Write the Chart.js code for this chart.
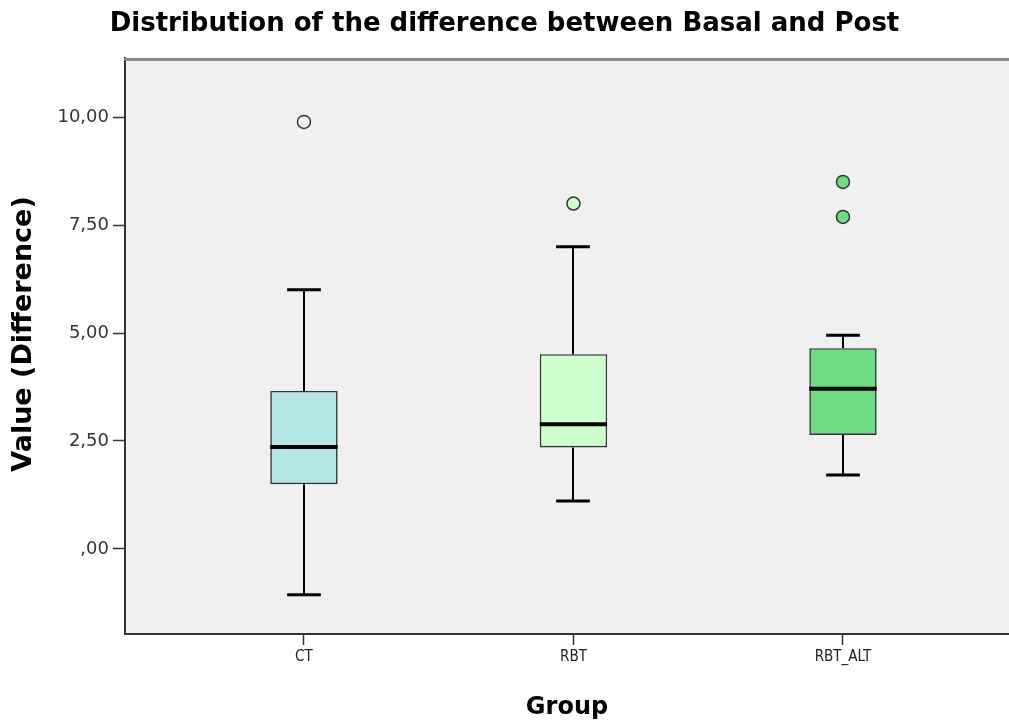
<!DOCTYPE html>
<html>
<head>
<meta charset="utf-8">
<script src="https://cdn.jsdelivr.net/npm/chart.js@4.4.1/dist/chart.umd.min.js"></script>
<style>
  body { margin: 0; background: #fff; }
  #contenedor { width: 1009px; height: 724px; }
</style>
</head>
<body>
<div id="contenedor"><canvas id="grafico" width="1009" height="724"></canvas></div>
<script>
// Datos de cada grupo (diferencia Basal - Post)
const grupos = ['CT', 'RBT', 'RBT_ALT'];
const bigoteInf = [-1.06, 1.11, 1.71];
const cuartil1 = [1.50, 2.35, 2.64];
const medianas = [2.36, 2.89, 3.71];
const cuartil3 = [3.66, 4.51, 4.65];
const bigoteSup = [6.00, 7.00, 4.95];
const atipicos = [[9.89], [8.00], [8.50, 7.69]];

// Marcas del eje Y con formato de coma decimal
const ticksY = [0, 2.5, 5, 7.5, 10];
const etiquetasY = [',00', '2,50', '5,00', '7,50', '10,00'];

const colores = ['#b4e6e8', '#ccffcc', '#6edc82'];
const coloresAtipicos = ['#f4f4f4', '#ccffcc', '#6edc82'];

// Puntos atípicos en formato {x, y}
const puntosAtipicos = [];
const colorPuntos = [];
atipicos.forEach((lista, i) => {
    lista.forEach(v => {
        puntosAtipicos.push({ x: i, y: v });
        colorPuntos.push(coloresAtipicos[i]);
    });
});

// Plugin: fondo gris, bigotes, medianas, borde superior y título del eje Y
const cajaBigotes = {
    id: 'cajaBigotes',
    beforeDraw(chart) {
        const { ctx, chartArea: a } = chart;
        ctx.save();
        ctx.fillStyle = '#f0f0f0';
        ctx.fillRect(a.left, a.top, a.right - a.left, a.bottom - a.top);
        ctx.restore();
    },
    beforeDatasetsDraw(chart) {
        const { ctx, scales: { y } } = chart;
        const cajas = chart.getDatasetMeta(0).data;
        ctx.save();
        ctx.strokeStyle = '#000';
        grupos.forEach((g, i) => {
            const cx = Math.round(cajas[i].x);
            const media = cajas[i].width / 4; // mitad del ancho del remate
            const ySup = y.getPixelForValue(bigoteSup[i]);
            const yInf = y.getPixelForValue(bigoteInf[i]);
            ctx.lineWidth = 2;
            ctx.beginPath();
            ctx.moveTo(cx, y.getPixelForValue(cuartil3[i]));
            ctx.lineTo(cx, ySup);
            ctx.moveTo(cx, y.getPixelForValue(cuartil1[i]));
            ctx.lineTo(cx, yInf);
            ctx.stroke();
            ctx.lineWidth = 3;
            ctx.beginPath();
            ctx.moveTo(cx - media, ySup);
            ctx.lineTo(cx + media, ySup);
            ctx.moveTo(cx - media, yInf);
            ctx.lineTo(cx + media, yInf);
            ctx.stroke();
        });
        ctx.restore();
    },
    afterDatasetsDraw(chart) {
        const { ctx, scales: { y } } = chart;
        const cajas = chart.getDatasetMeta(0).data;
        ctx.save();
        ctx.strokeStyle = '#000';
        ctx.lineWidth = 4;
        grupos.forEach((g, i) => {
            const c = cajas[i];
            const ym = y.getPixelForValue(medianas[i]);
            ctx.beginPath();
            ctx.moveTo(c.x - c.width / 2, ym);
            ctx.lineTo(c.x + c.width / 2, ym);
            ctx.stroke();
        });
        ctx.restore();
    },
    afterDraw(chart) {
        const { ctx, chartArea: a } = chart;
        ctx.save();
        ctx.strokeStyle = '#8a8a8a';
        ctx.lineWidth = 3;
        ctx.beginPath();
        ctx.moveTo(a.left - 1, a.top + 1.5);
        ctx.lineTo(chart.width, a.top + 1.5);
        ctx.stroke();
        // título del eje Y
        ctx.translate(24, 334);
        ctx.rotate(-Math.PI / 2);
        ctx.fillStyle = '#000';
        ctx.font = 'bold 27px "DejaVu Sans"';
        ctx.textAlign = 'center';
        ctx.textBaseline = 'middle';
        ctx.fillText('Value (Difference)', 0, 0);
        ctx.restore();
    }
};

const ctx = document.getElementById('grafico').getContext('2d');
const grafico = new Chart(ctx, {
    type: 'bar',
    data: {
        datasets: [{
            label: 'Caja',
            data: grupos.map((g, i) => ({ x: i, y: [cuartil1[i], cuartil3[i]] })),
            backgroundColor: colores,
            borderColor: '#333',
            borderWidth: 1.6,
            borderSkipped: false,
            categoryPercentage: 1,
            barPercentage: 0.25,
            order: 2
        }, {
            type: 'scatter',
            label: 'Atípicos',
            data: puntosAtipicos,
            pointBackgroundColor: colorPuntos,
            pointBorderColor: '#333',
            pointBorderWidth: 1.5,
            pointRadius: 6.5,
            order: 1
        }]
    },
    options: {
        responsive: false,
        animation: false,
        layout: { padding: 0, autoPadding: false },
        plugins: {
            legend: { display: false },
            tooltip: { enabled: false },
            title: {
                display: true,
                text: 'Distribution of the difference between Basal and Post',
                color: '#000',
                font: { family: 'DejaVu Sans', size: 26, weight: 'bold' },
                padding: { top: 9, bottom: 17.8 }
            }
        },
        scales: {
            x: {
                type: 'linear',
                offset: false,
                min: -0.664,
                max: 2.616,
                afterFit(scale) { scale.height = 90; },
                afterBuildTicks(scale) { scale.ticks = grupos.map((g, i) => ({ value: i })); },
                ticks: {
                    color: '#222',
                    font: { family: '"DejaVu Sans Condensed", "Liberation Sans", sans-serif', size: 15 },
                    padding: 3,
                    callback: v => grupos[v]
                },
                grid: { offset: false, drawOnChartArea: false, drawTicks: true, tickLength: 11, tickColor: '#333', tickWidth: 1.5 },
                border: { color: '#333', width: 2 },
                title: {
                    display: true,
                    text: 'Group',
                    color: '#000',
                    font: { family: 'DejaVu Sans', size: 24, weight: 'bold' },
                    padding: { top: 0, bottom: 2 }
                }
            },
            y: {
                min: -1.97,
                max: 11.37,
                afterFit(scale) { scale.width = 125; },
                afterBuildTicks(scale) { scale.ticks = ticksY.map(v => ({ value: v })); },
                ticks: {
                    color: '#333',
                    font: { family: 'DejaVu Sans', size: 18 },
                    padding: 4,
                    callback: v => etiquetasY[ticksY.indexOf(v)]
                },
                grid: { drawOnChartArea: false, drawTicks: true, tickLength: 12, tickColor: '#333', tickWidth: 1.5 },
                border: { color: '#333', width: 2 }
            }
        }
    },
    plugins: [cajaBigotes]
});
</script>
</body>
</html>
